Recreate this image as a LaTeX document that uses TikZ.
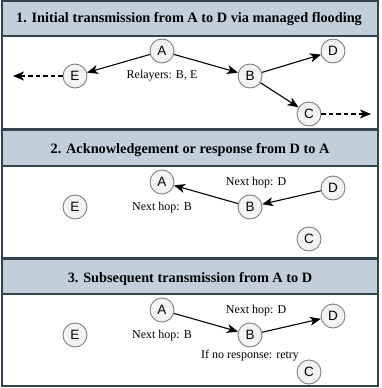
\documentclass[tikz,border=0pt]{standalone}
\usepackage{fontspec}
\setmainfont{Liberation Serif}
\newfontfamily\nodefont{Liberation Sans}
\usetikzlibrary{arrows.meta}
\definecolor{hdrblue}{HTML}{C2CFDB}
\definecolor{frameline}{HTML}{34424F}
\definecolor{nodegray}{HTML}{7F7F7F}
\definecolor{nodefill}{HTML}{F3F3F3}

\begin{document}
\begin{tikzpicture}[
  x=1pt, y=-1pt,
  peer/.style={circle, draw=nodegray, fill=nodefill, line width=0.9pt, minimum size=24pt, inner sep=0pt, font=\nodefont\fontsize{13.5}{14}\selectfont},
  title/.style={font=\rmfamily\bfseries\fontsize{14.3}{16}\selectfont},
  note/.style={font=\rmfamily\fontsize{12}{14}\selectfont},
  hdr/.style={fill=hdrblue, draw=frameline, line width=1.5pt},
  pane/.style={draw=frameline, line width=1.5pt},
  arr/.style={-{Stealth[length=11pt, width=9pt, inset=3pt]}, line width=1.1pt},
  flood/.style={arr, dash pattern=on 4.5pt off 3pt}
]
\useasboundingbox (0,0) rectangle (382,388);

% panel frames
\draw[pane] (2,1) rectangle (378,129);
\draw[hdr] (2,1) rectangle (378,36);
\draw[pane] (2,130) rectangle (378,258);
\draw[hdr] (2,130) rectangle (378,166);
\draw[pane] (2,259) rectangle (378,386);
\draw[hdr] (2,259) rectangle (378,294);

\node[title] (t1) at (189,19) {1. Initial transmission from A to D via managed flooding};
\node[title] (t2) at (190,150) {2. Acknowledgement or response from D to A};
\node[title] (t3) at (190,279) {3. Subsequent transmission from A to D};

% panel 1
\node[peer] (a1) at (162,51) {A};
\node[peer] (e1) at (75,76) {E};
\node[peer] (b1) at (250,76) {B};
\node[peer] (d1) at (333,51) {D};
\node[peer] (c1) at (309,114) {C};
\coordinate (w1) at (13,76);
\coordinate (x1) at (371,114);
\node[note] (r1) at (162,76) {Relayers: B, E};

\draw[arr] (a1) -- (e1);
\draw[arr] (a1) -- (b1);
\draw[arr] (b1) -- (d1);
\draw[arr] (b1) -- (c1);
\draw[flood] (e1) -- (w1);
\draw[flood] (c1) -- (x1);

% panel 2
\node[peer] (a2) at (162,182) {A};
\node[peer] (e2) at (75,207) {E};
\node[peer] (b2) at (250,207) {B};
\node[peer] (d2) at (333,188) {D};
\node[peer] (c2) at (309,239) {C};
\node[note] (n2d) at (256,183) {Next hop: D};
\node[note] (n2b) at (162,208) {Next hop: B};

\draw[arr] (d2) -- (b2);
\draw[arr] (b2) -- (a2);

% panel 3
\node[peer] (a3) at (162,310) {A};
\node[peer] (e3) at (75,335) {E};
\node[peer] (b3) at (250,335) {B};
\node[peer] (d3) at (333,316) {D};
\node[peer] (c3) at (309,372) {C};
\node[note] (n3d) at (256,311) {Next hop: D};
\node[note] (n3b) at (162,336) {Next hop: B};
\node[note] (n3r) at (250,356) {If no response: retry};

\draw[arr] (a3) -- (b3);
\draw[arr] (b3) -- (d3);

\end{tikzpicture}
\end{document}
